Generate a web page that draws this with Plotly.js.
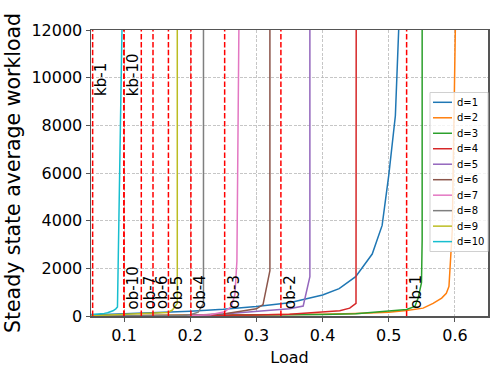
<!DOCTYPE html>
<html>
<head>
<meta charset="utf-8">
<script src="https://cdn.plot.ly/plotly-3.0.1.min.js"></script>
<style>html,body{margin:0;padding:0;background:#fff;}#chart{width:498px;height:382px;}</style>
</head>
<body>
<div id="chart"></div>
<script>
// ---- data ----
var seriesNames = ['d=1','d=2','d=3','d=4','d=5','d=6','d=7','d=8','d=9','d=10'];
var seriesColors = ['#1f77b4','#ff7f0e','#2ca02c','#d62728','#9467bd','#8c564b','#e377c2','#7f7f7f','#bcbd22','#17becf'];

var load_d1 = [0.05, 0.1, 0.15, 0.2, 0.25, 0.3, 0.35, 0.4, 0.425, 0.45, 0.475, 0.49, 0.5, 0.51, 0.515];
var work_d1 = [40, 90, 140, 200, 280, 400, 560, 880, 1150, 1650, 2600, 3800, 5900, 8400, 12000];

var load_d2 = [0.05, 0.1, 0.2, 0.3, 0.4, 0.45, 0.5, 0.527, 0.542, 0.552, 0.567, 0.58, 0.587, 0.591, 0.596, 0.6006];
var work_d2 = [5, 10, 20, 40, 70, 100, 160, 230, 280, 330, 530, 750, 950, 1240, 3600, 12000];

var load_d3 = [0.05, 0.1, 0.2, 0.3, 0.4, 0.45, 0.487, 0.527, 0.5395, 0.5444, 0.5495, 0.5505, 0.5505];
var work_d3 = [3, 8, 15, 30, 60, 90, 180, 270, 400, 750, 1400, 3200, 12000];

var load_d4 = [0.05, 0.1, 0.2, 0.3, 0.35, 0.4, 0.426, 0.441, 0.4505, 0.4508];
var work_d4 = [2, 5, 15, 40, 70, 150, 220, 330, 530, 12000];

var load_d5 = [0.05, 0.1, 0.15, 0.2, 0.25, 0.275, 0.3, 0.325, 0.35, 0.3707, 0.3808, 0.3808];
var work_d5 = [2, 5, 10, 20, 80, 130, 180, 240, 300, 420, 1650, 12000];

var load_d6 = [0.05, 0.1, 0.15, 0.2, 0.25, 0.275, 0.3, 0.31, 0.3204, 0.3204];
var work_d6 = [2, 5, 10, 30, 80, 180, 300, 480, 1900, 12000];

var load_d7 = [0.05, 0.1, 0.15, 0.2, 0.23, 0.252, 0.262, 0.2675, 0.2705, 0.2735];
var work_d7 = [1, 3, 8, 20, 50, 180, 400, 900, 2300, 12000];

var load_d8 = [0.05, 0.1, 0.15, 0.19, 0.2, 0.212, 0.22, 0.22];
var work_d8 = [1, 3, 10, 20, 50, 160, 530, 12000];

var load_d9 = [0.05, 0.1, 0.14, 0.166, 0.173, 0.1804, 0.1804];
var work_d9 = [10, 60, 110, 150, 250, 530, 12000];

var load_d10 = [0.05, 0.06, 0.07, 0.075, 0.0832, 0.0875, 0.09, 0.0968];
var work_d10 = [60, 70, 110, 140, 220, 300, 380, 12000];

var kbLoads = [0.0525, 0.0998];
var kbLabels = ['kb-1', 'kb-10'];
var obLoads = [0.527, 0.337, 0.252, 0.201, 0.167, 0.1437, 0.126, 0.0998];
var obLabels = ['ob-1', 'ob-2', 'ob-3', 'ob-4', 'ob-5', 'ob-6', 'ob-7', 'ob-10'];
var kbLabelY = 9200;
var obLabelY = 250;

var xTicks = [0.1, 0.2, 0.3, 0.4, 0.5, 0.6];
var yTicks = [0, 2000, 4000, 6000, 8000, 10000, 12000];
var xRange = [0.05, 0.65];
var yRange = [0, 12000];

// ---- build ----
var FONT = 'DejaVu Sans, Verdana, sans-serif';
var W = 498, H = 382;
var M = {l: 91, r: 10, t: 30, b: 66};
var plotW = W - M.l - M.r, plotH = H - M.t - M.b;
function px2paperX(p) { return (p - M.l) / plotW; }
function px2paperY(p) { return (H - M.b - p) / plotH; }

var loads = [load_d1, load_d2, load_d3, load_d4, load_d5, load_d6, load_d7, load_d8, load_d9, load_d10];
var works = [work_d1, work_d2, work_d3, work_d4, work_d5, work_d6, work_d7, work_d8, work_d9, work_d10];

var traces = [];
for (var i = 0; i < seriesNames.length; i++) {
  traces.push({
    x: loads[i], y: works[i], name: seriesNames[i], type: 'scatter', mode: 'lines',
    line: {color: seriesColors[i], width: 1.5}, cliponaxis: true, showlegend: false
  });
}

var shapes = [];
var annotations = [];
function addMarker(xv, label, yv) {
  shapes.push({type: 'line', xref: 'x', yref: 'y', x0: xv, x1: xv, y0: yRange[0], y1: yRange[1],
    line: {color: '#ff0000', width: 1.5, dash: '5.5px,2.4px'}, layer: 'above'});
  annotations.push({xref: 'x', yref: 'y', x: xv, y: yv, text: label, showarrow: false,
    textangle: -90, xanchor: 'left', yanchor: 'bottom', xshift: -1, borderpad: 0,
    font: {family: FONT, size: 15, color: '#000'}});
}
for (var k = 0; k < kbLoads.length; k++) addMarker(kbLoads[k], kbLabels[k], kbLabelY);
for (var o = 0; o < obLoads.length; o++) addMarker(obLoads[o], obLabels[o], obLabelY);

// legend (matplotlib style, centre right inside the axes)
var legBox = {x0: 430, x1: 488, y0: 92.5, y1: 251.5};
shapes.push({type: 'rect', xref: 'paper', yref: 'paper',
  x0: px2paperX(legBox.x0), x1: px2paperX(legBox.x1), y0: px2paperY(legBox.y1), y1: px2paperY(legBox.y0),
  fillcolor: 'rgba(255,255,255,0.8)', line: {color: '#d0d0d0', width: 1}, layer: 'above'});
var legFirstY = 102.3, legStep = 15.48;
for (var j = 0; j < seriesNames.length; j++) {
  var yy = px2paperY(legFirstY + j * legStep);
  shapes.push({type: 'line', xref: 'paper', yref: 'paper', x0: px2paperX(433), x1: px2paperX(452),
    y0: yy, y1: yy, line: {color: seriesColors[j], width: 1.5}, layer: 'above'});
  annotations.push({xref: 'paper', yref: 'paper', x: px2paperX(456), y: yy, text: seriesNames[j],
    showarrow: false, xanchor: 'left', yanchor: 'middle', borderpad: 0,
    font: {family: FONT, size: 10, color: '#000'}});
}

var layout = {
  width: W, height: H,
  margin: {l: M.l, r: M.r, t: M.t, b: M.b, pad: 0},
  paper_bgcolor: '#fff', plot_bgcolor: '#fff',
  font: {family: FONT, size: 16, color: '#000'},
  showlegend: false,
  xaxis: {
    range: xRange, tickvals: xTicks, ticktext: xTicks.map(function(v){return v.toFixed(1);}),
    showline: true, mirror: true, linecolor: '#555', linewidth: 1.5,
    ticks: 'outside', ticklen: 4, tickcolor: '#555', tickwidth: 1,
    showgrid: true, gridcolor: '#b8b8b8', gridwidth: 0.8, griddash: '3px,1.5px',
    zeroline: false, tickfont: {size: 16},
    title: {text: 'Load', font: {size: 16}, standoff: 8}
  },
  yaxis: {
    range: yRange, tickvals: yTicks, ticktext: yTicks.map(String),
    showline: true, mirror: true, linecolor: '#555', linewidth: 1.5,
    ticks: 'outside', ticklen: 4, tickcolor: '#555', tickwidth: 1,
    showgrid: true, gridcolor: '#b8b8b8', gridwidth: 0.8, griddash: '3px,1.5px',
    zeroline: false, tickfont: {size: 16},
    title: {text: 'Steady state average workload', font: {size: 20.5}, standoff: 5}
  },
  shapes: shapes,
  annotations: annotations
};

Plotly.newPlot('chart', traces, layout, {displayModeBar: false, staticPlot: true});
</script>
</body>
</html>
